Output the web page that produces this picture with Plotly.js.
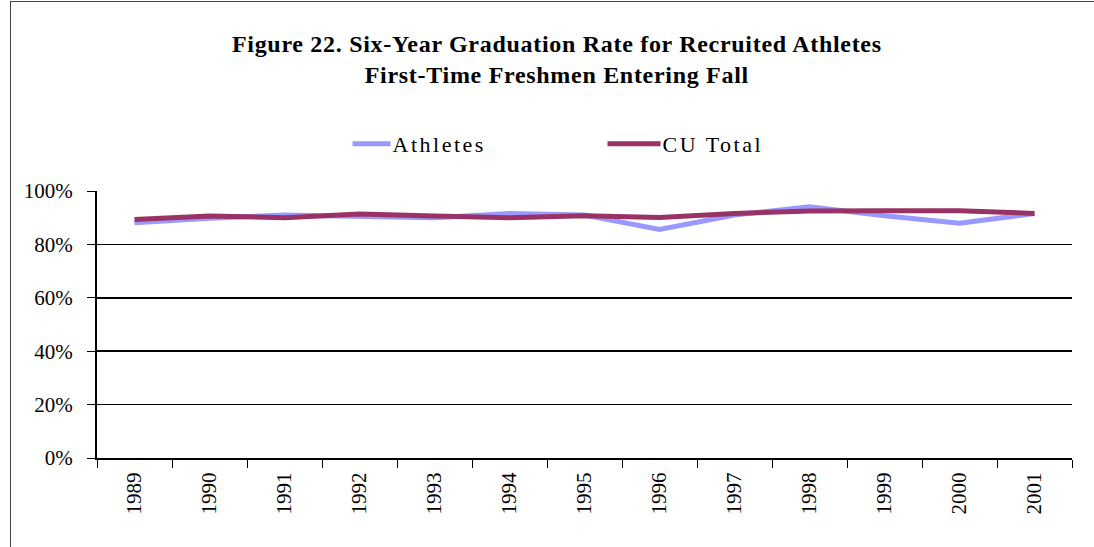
<!DOCTYPE html>
<html>
<head>
<meta charset="utf-8">
<script src="https://cdn.plot.ly/plotly-3.0.1.min.js"></script>
<style>
html,body{margin:0;padding:0;background:#fff;overflow:hidden;}
#frame{position:absolute;left:10px;top:1px;width:1100px;height:560px;border:1px solid #444;box-sizing:border-box;}
#chart{position:absolute;left:0;top:0;width:1094px;height:547px;}
.legendtext{letter-spacing:2.5px;}
.gtitle{letter-spacing:0.7px;}
</style>
</head>
<body>
<div id="frame"></div>
<div id="chart"></div>
<script>
const years = ['1989','1990','1991','1992','1993','1994','1995','1996','1997','1998','1999','2000','2001'];
const athletes = [0.881, 0.898, 0.91, 0.905, 0.90, 0.916, 0.91, 0.856, 0.91, 0.941, 0.907, 0.879, 0.916];
const cuTotal  = [0.893, 0.906, 0.90, 0.914, 0.906, 0.90, 0.907, 0.901, 0.916, 0.925, 0.926, 0.926, 0.916];
const yTicks = [0, 0.2, 0.4, 0.6, 0.8, 1.0];
const yTickText = ['0%','20%','40%','60%','80%','100%'];

const serif = 'Liberation Serif, Times New Roman, serif';

const traces = [
  {x: years, y: athletes, name: 'Athletes', type: 'scatter', mode: 'lines',
   line: {color: '#9999FF', width: 5}},
  {x: years, y: cuTotal, name: 'CU Total', type: 'scatter', mode: 'lines',
   line: {color: '#993366', width: 5}}
];

const layout = {
  width: 1094, height: 547,
  paper_bgcolor: 'rgba(0,0,0,0)', plot_bgcolor: 'rgba(0,0,0,0)',
  margin: {l: 97, r: 22, t: 191, b: 89},
  font: {family: serif, color: '#000', size: 21},
  title: {
    text: '<b>Figure 22. Six-Year Graduation Rate for Recruited Athletes<br>First-Time Freshmen Entering Fall</b>',
    font: {family: serif, size: 24, color: '#000'},
    x: 0.509, xanchor: 'center', xref: 'container',
    y: 0.905, yanchor: 'top', yref: 'container'
  },
  showlegend: true,
  legend: {
    orientation: 'h', x: 0.539, xanchor: 'center', y: 1.176, yanchor: 'middle',
    font: {family: serif, size: 22, color: '#000'},
    entrywidth: 225, entrywidthmode: 'pixels',
    bgcolor: 'rgba(0,0,0,0)'
  },
  xaxis: {
    type: 'category', categoryorder: 'array', categoryarray: years,
    showline: true, linecolor: '#000', linewidth: 2, mirror: false,
    ticks: 'outside', tickson: 'boundaries', ticklen: 8, tickcolor: '#000', tickwidth: 1,
    tickangle: -90, tickfont: {family: serif, size: 21, color: '#000'},
    ticklabelstandoff: 4,
    showgrid: false, zeroline: false, fixedrange: true,
    range: [-0.5, 12.5]
  },
  yaxis: {
    range: [0, 1], tickvals: yTicks, ticktext: yTickText,
    showline: true, linecolor: '#000', linewidth: 2,
    ticks: 'outside', ticklen: 8, tickcolor: '#000', tickwidth: 1,
    ticklabelstandoff: 10,
    showgrid: true, gridcolor: '#000', gridwidth: 1.5,
    zeroline: false, tickfont: {family: serif, size: 21, color: '#000'},
    fixedrange: true
  }
};

Plotly.newPlot('chart', traces, layout, {displayModeBar: false, staticPlot: true}).then(function (gd) {
  // lengthen legend line samples to match the reference
  gd.querySelectorAll('.legend .legendlines path').forEach(function (p) {
    p.setAttribute('d', 'M-15,0h53');
  });
});
</script>
</body>
</html>
